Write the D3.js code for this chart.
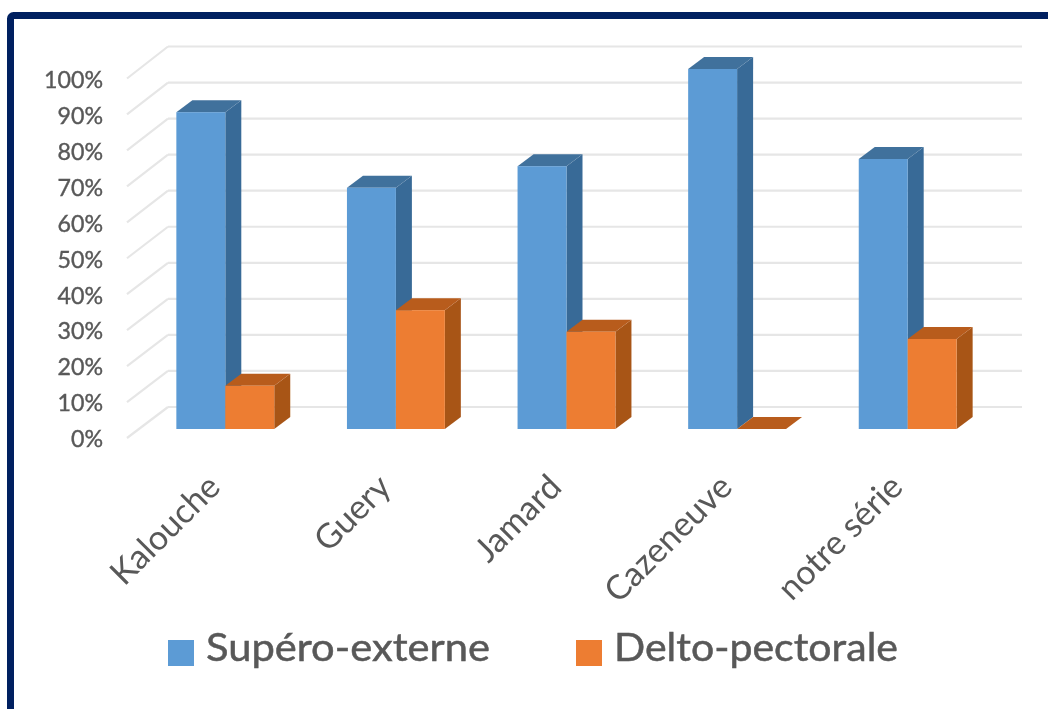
<!DOCTYPE html>
<html><head><meta charset="utf-8">
<script src="https://cdn.jsdelivr.net/npm/d3@7/dist/d3.min.js"></script>
<style>html,body{margin:0;padding:0;background:#fff;overflow:hidden}svg{display:block}</style>
</head><body><div id="chart"></div>
<script>
const categories = ["Kalouche","Guery","Jamard","Cazeneuve","notre série"];
const superoExterne = [88,67,73,100,75];
const deltoPectorale = [12,33,27,0,25];
const percentTicks = [0,10,20,30,40,50,60,70,80,90,100];
const seriesNames = ["Supéro-externe","Delto-pectorale"];

const W=1048,H=709,FONT="Lato,'Open Sans',sans-serif",TXT="#595959";
const svg=d3.select("#chart").append("svg").attr("width",W).attr("height",H);
const defs=svg.append("defs");
defs.append("filter").attr("id","soft").append("feGaussianBlur").attr("stdDeviation",0.6);

// frame
svg.append("rect").attr("x",10.5).attr("y",15.5).attr("width",W+40).attr("height",H+40).attr("rx",3)
  .attr("fill","#fff").attr("stroke","#002060").attr("stroke-width",7);

const root=svg.append("g").attr("filter","url(#soft)");

const yBar=d3.scaleLinear().domain([0,100]).range([429,69]);
const yWall=d3.scaleLinear().domain([0,100]).range([407,46.5]);
const yEdge=d3.scaleLinear().domain([0,100]).range([438,78.5]);
const xGroup=d3.scaleBand().domain(categories).range([140,993]).paddingInner(0.4262).paddingOuter(0.2131);
const xSeries=d3.scaleBand().domain([0,1]).range([0,xGroup.bandwidth()]);
const depthX=16,depthY=12;

// walls
const wallX0=168,wallX1=1022,edgeX=127;
root.append("g").selectAll("line.h").data(percentTicks).join("line")
  .attr("x1",wallX0).attr("x2",wallX1).attr("y1",yWall).attr("y2",yWall)
  .attr("stroke","#e6e6e6").attr("stroke-width",2.2);
root.append("g").selectAll("line.d").data(percentTicks).join("line")
  .attr("x1",edgeX).attr("x2",wallX0).attr("y1",yEdge).attr("y2",yWall)
  .attr("stroke","#e6e6e6").attr("stroke-width",2.2);

// bars
const fills=[{f:"#5b9bd5",s:"#386a97",t:"#41719c"},{f:"#ed7d31",s:"#a85518",t:"#b85c1c"}];
function bar(g,x,w,v,c){
  const yt=yBar(v),yb=yBar(0);
  const pts=a=>a.map(p=>p.join(",")).join(" ");
  g.append("polygon").attr("points",pts([[x+w,yt],[x+w+depthX,yt-depthY],[x+w+depthX,yb-depthY],[x+w,yb]])).attr("fill",c.s);
  g.append("polygon").attr("points",pts([[x,yt],[x+depthX,yt-depthY],[x+w+depthX,yt-depthY],[x+w,yt]])).attr("fill",c.t);
  g.append("rect").attr("x",x).attr("y",yt).attr("width",w).attr("height",yb-yt).attr("fill",c.f);
}
categories.forEach((cat,i)=>{
  const g=root.append("g");
  const x0=xGroup(cat);
  bar(g,x0,xSeries.bandwidth(),superoExterne[i],fills[0]);
  bar(g,x0+xSeries(1),xSeries.bandwidth(),deltoPectorale[i],fills[1]);
});

// y axis
const yAxis=root.append("g").attr("transform","translate(103,0)")
  .call(d3.axisLeft(yEdge).tickValues(percentTicks).tickFormat(d=>d+"%").tickSize(0).tickPadding(0));
yAxis.select(".domain").remove();
yAxis.selectAll("text").attr("font-family",FONT).attr("font-size",23.2).attr("fill",TXT)
  .attr("stroke",TXT).attr("stroke-width",0.4).attr("dy","0.38em");

// x axis
const xAxis=root.append("g").attr("transform","translate(0,462)")
  .call(d3.axisBottom(xGroup).tickSize(0).tickPadding(0));
xAxis.select(".domain").remove();
xAxis.selectAll("text").attr("font-family",FONT).attr("font-size",34).attr("fill",TXT)
  .attr("text-anchor","end").attr("dy",0)
  .attr("transform","translate(-3,27) rotate(-45)");

// legend
const legendX=[168,576],legendTextX=[206,614],legendLen=[284,284];
seriesNames.forEach((n,i)=>{
  root.append("rect").attr("x",legendX[i]).attr("y",640).attr("width",26).attr("height",26).attr("fill",fills[i].f);
  root.append("text").attr("x",legendTextX[i]).attr("y",661).attr("font-family",FONT).attr("font-size",38)
    .attr("fill",TXT).attr("stroke",TXT).attr("stroke-width",0.5).attr("textLength",legendLen[i]).attr("lengthAdjust","spacingAndGlyphs").text(n);
});
</script></body></html>
